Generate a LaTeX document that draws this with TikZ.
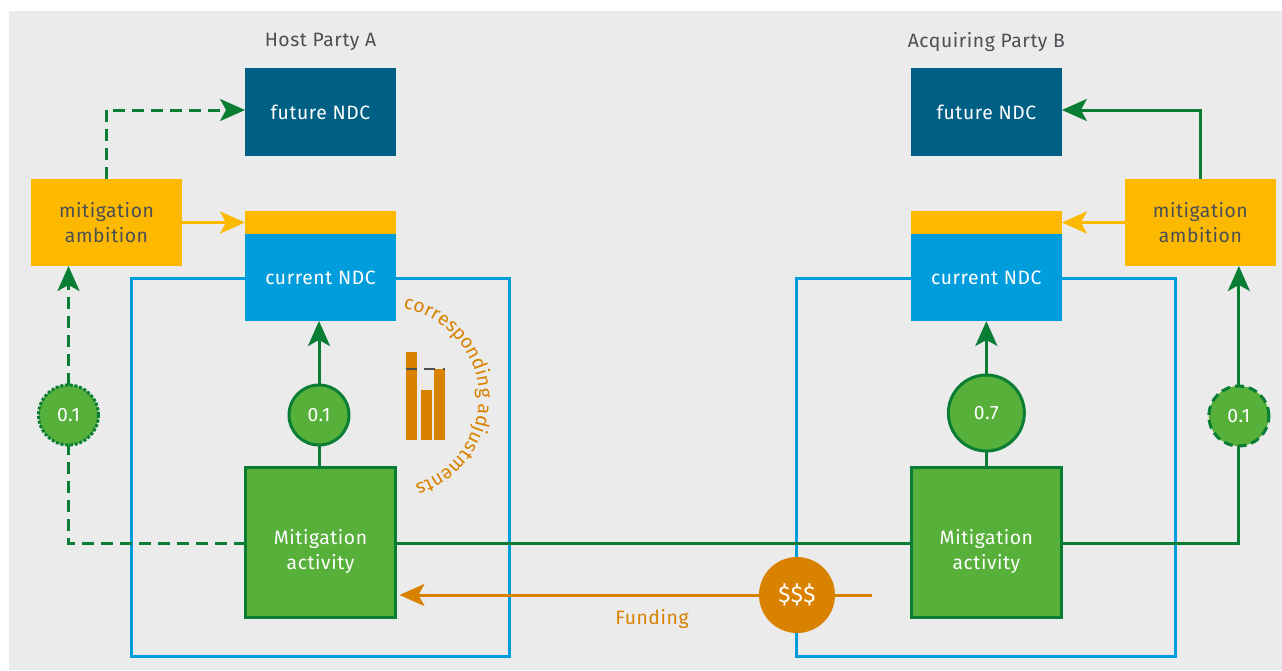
\documentclass[tikz,border=0pt]{standalone}
\usepackage{fontspec}
\setmainfont[LetterSpace=3]{Fira Sans}
\usetikzlibrary{%
   arrows.meta,%
   positioning,%
   decorations.text}
\definecolor{panelgrey}{HTML}{EBEBEB}
\definecolor{ndcdark}{HTML}{005F85}
\definecolor{ndcblue}{HTML}{009DDC}
\definecolor{ambyellow}{HTML}{FDB900}
\definecolor{actgreen}{HTML}{57B03A}
\definecolor{linegreen}{HTML}{0A7D34}
\definecolor{fundorange}{HTML}{D98200}
\definecolor{labelgrey}{HTML}{4A4F54}

\begin{document}
\begin{tikzpicture}
	[x=.02cm,y=-.02cm,node distance=1cm,on grid,font=\fontsize{11}{14.2}\selectfont,
	>={Stealth[length=.5cm,width=.44cm,inset=.12cm]},
	box/.style={rectangle,minimum width=3.02cm,inner sep=0pt,outer sep=0pt,align=center},
	future/.style={box,minimum height=1.76cm,fill=ndcdark,text=white},
	target/.style={box,minimum height=.46cm,fill=ambyellow},
	current/.style={box,minimum height=1.74cm,fill=ndcblue,text=white},
	activity/.style={box,minimum width=3cm,minimum height=3cm,draw=linegreen,line width=.06cm,fill=actgreen},
	acttext/.style={align=center,inner sep=0pt,text=white},
	ambition/.style={box,minimum height=1.74cm,fill=ambyellow,text=labelgrey},
	share/.style={circle,inner sep=0pt,outer sep=0pt,minimum size=1.2cm,draw=linegreen,line width=.06cm,fill=actgreen,text=white},
	party/.style={text=labelgrey},
	frame/.style={rectangle,minimum width=7.58cm,minimum height=7.58cm,draw=ndcblue,line width=.06cm,inner sep=0pt,outer sep=0pt},
	credit/.style={draw=linegreen,line width=.06cm},
	creditdash/.style={credit,dash pattern=on .24cm off .14cm},
	yellowline/.style={draw=ambyellow,line width=.06cm},
	fund/.style={draw=fundorange,line width=.06cm},
	money/.style={circle,minimum size=1.52cm,inner sep=0pt,outer sep=0pt,fill=fundorange,text=white,font=\fontsize{13}{15}\selectfont},
	bar/.style={fill=fundorange,draw=none},
	limit/.style={draw=labelgrey,line width=.05cm}]
	\useasboundingbox (0,0) rectangle (1282,670);
	\fill[panelgrey] (9,11) rectangle (1282,670);
	% Host party
	\node [frame] (frA) at (320.5,467.5) {};
	\node [future] (fuA) at (320.5,112) {future NDC};
	\node [party] (paA) [above=1.4cm of fuA] {Host Party A};
	\node [target] (taA) [below=2.21cm of fuA] {};
	\node [current] (cuA) [below=1.1cm of taA] {current NDC};
	\node [activity] (acA) [below=5.31cm of cuA] {};
	\node [acttext] (ltA) [below=.17cm of acA] {Mitigation\\activity};
	\node [share] (shA) at (319,415) {0.1};
	\node [ambition] (amA) at (106.5,222.5) {mitigation\\ambition};
	\node [share,densely dotted] (drA) at (68.5,415) {0.1};
	\foreach \x/\y/\h in {411.5/396/88,426/415/50,439.5/404.5/71}
		\fill[bar] (\x-5.5,\y-\h/2) rectangle (\x+5.5,\y+\h/2);
	\draw[limit] (406,369) -- (417,369) (424,369) -- (435,369) (443,369) -- (445,369);
	\path[decorate,decoration={text along path,
		text={|\fontsize{11}{13}\selectfont\color{fundorange}|corresponding adjustments}}]
		(403,309) arc[start angle=-81,end angle=110,radius=90];
	\draw[credit] (acA.north -| shA) -- (shA);
	\draw[credit,->] (shA) -- (shA |- cuA.south);
	\draw[creditdash] ([yshift=-.02cm]acA.west) -| (drA.south);
	\draw[creditdash,->] (drA.north) -- (drA.north |- amA.south);
	\draw[creditdash,->] (amA.north) |- ([yshift=.04cm]fuA.west);
	\draw[yellowline,->] (amA.east) -- (amA.east -| taA.west);
	% Acquiring party
	\begin{scope}[xshift=13.32cm]
	\node [frame] (frB) at (320.5,467.5) {};
	\node [future] (fuB) at (320.5,112) {future NDC};
	\node [party] (paB) [above=1.4cm of fuB] {Acquiring Party B};
	\node [target] (taB) [below=2.21cm of fuB] {};
	\node [current] (cuB) [below=1.1cm of taB] {current NDC};
	\node [activity] (acB) [below=5.31cm of cuB] {};
	\node [acttext] (ltB) [below=.17cm of acB] {Mitigation\\activity};
	\node [share,minimum size=1.52cm] (shB) at (320.5,413) {0.7};
	\node [ambition] (amB) at (534.5,222.5) {mitigation\\ambition};
	\node [share,dash pattern=on .18cm off .1cm] (drB) at (573,416) {0.1};
	\draw[credit] (acB.north -| shB) -- (shB);
	\draw[credit,->] (shB) -- (shB |- cuB.south);
	\draw[credit] ([yshift=-.02cm]acB.east) -| (drB.south);
	\draw[credit,->] (drB.north) -- (drB.north |- amB.south);
	\draw[credit,->] (amB.north) |- ([yshift=.04cm]fuB.east);
	\draw[yellowline,->] (amB.west) -- (amB.west -| taB.east);
	\end{scope}
	% Between the parties
	\draw[credit] ([yshift=-.02cm]acA.east) -- ([yshift=-.02cm]acB.west);
	\coordinate (fuEnd) at (872,595);
	\draw[fund,->,shorten >=.08cm] (fuEnd) -- (acA.east |- fuEnd);
	\node [money] (mo) at (797,595) {\$\$\$};
	\node [text=fundorange] (fl) at (652,619) {Funding};
\end{tikzpicture}
\end{document}
